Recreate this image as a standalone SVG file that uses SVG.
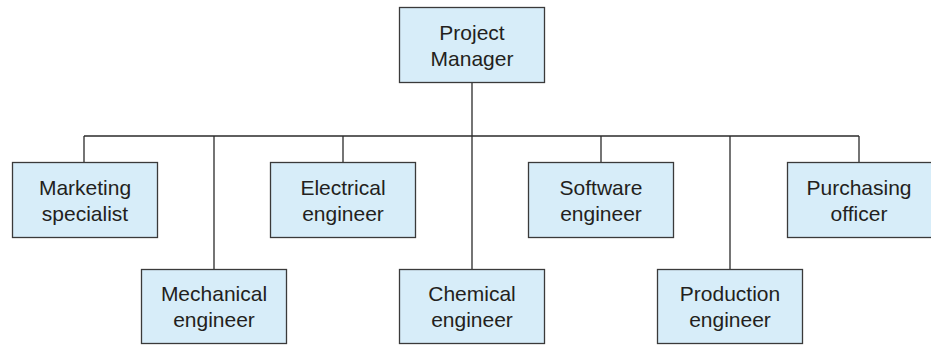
<svg xmlns="http://www.w3.org/2000/svg" width="931" height="346" viewBox="0 0 931 346">
<style>
.box{fill:#d7edf9;stroke:#3a3a3a;stroke-width:1.3}
.lbl{font-family:"Liberation Sans",Arial,sans-serif;font-size:21px;fill:#231f20;text-anchor:middle}
.ln{stroke:#2a2a2a;stroke-width:1.3;fill:none}
</style>
<rect width="931" height="346" fill="#ffffff"/>
<g id="connectors">
<line class="ln" x1="472" y1="82" x2="472" y2="269"/>
<line class="ln" x1="84" y1="136" x2="859" y2="136"/>
<line class="ln" x1="84" y1="136" x2="84" y2="162"/>
<line class="ln" x1="214" y1="136" x2="214" y2="269"/>
<line class="ln" x1="343" y1="136" x2="343" y2="162"/>
<line class="ln" x1="601" y1="136" x2="601" y2="162"/>
<line class="ln" x1="730" y1="136" x2="730" y2="269"/>
<line class="ln" x1="859" y1="136" x2="859" y2="162"/>
</g>
<g id="project-manager">
<rect class="box" x="399.5" y="7.5" width="145" height="75"/>
<text class="lbl" x="472" y="40">Project</text>
<text class="lbl" x="472" y="66">Manager</text>
</g>
<g id="marketing-specialist">
<rect class="box" x="12.5" y="162.5" width="145" height="75"/>
<text class="lbl" x="85" y="195">Marketing</text>
<text class="lbl" x="85" y="221">specialist</text>
</g>
<g id="electrical-engineer">
<rect class="box" x="270.5" y="162.5" width="145" height="75"/>
<text class="lbl" x="343" y="195">Electrical</text>
<text class="lbl" x="343" y="221">engineer</text>
</g>
<g id="software-engineer">
<rect class="box" x="528.5" y="162.5" width="145" height="75"/>
<text class="lbl" x="601" y="195">Software</text>
<text class="lbl" x="601" y="221">engineer</text>
</g>
<g id="purchasing-officer">
<rect class="box" x="787.5" y="162.5" width="145" height="75"/>
<text class="lbl" x="859" y="195">Purchasing</text>
<text class="lbl" x="859" y="221">officer</text>
</g>
<g id="mechanical-engineer">
<rect class="box" x="141.5" y="269.5" width="145" height="74"/>
<text class="lbl" x="214" y="301">Mechanical</text>
<text class="lbl" x="214" y="327">engineer</text>
</g>
<g id="chemical-engineer">
<rect class="box" x="399.5" y="269.5" width="145" height="74"/>
<text class="lbl" x="472" y="301">Chemical</text>
<text class="lbl" x="472" y="327">engineer</text>
</g>
<g id="production-engineer">
<rect class="box" x="657.5" y="269.5" width="145" height="74"/>
<text class="lbl" x="730" y="301">Production</text>
<text class="lbl" x="730" y="327">engineer</text>
</g>
</svg>
